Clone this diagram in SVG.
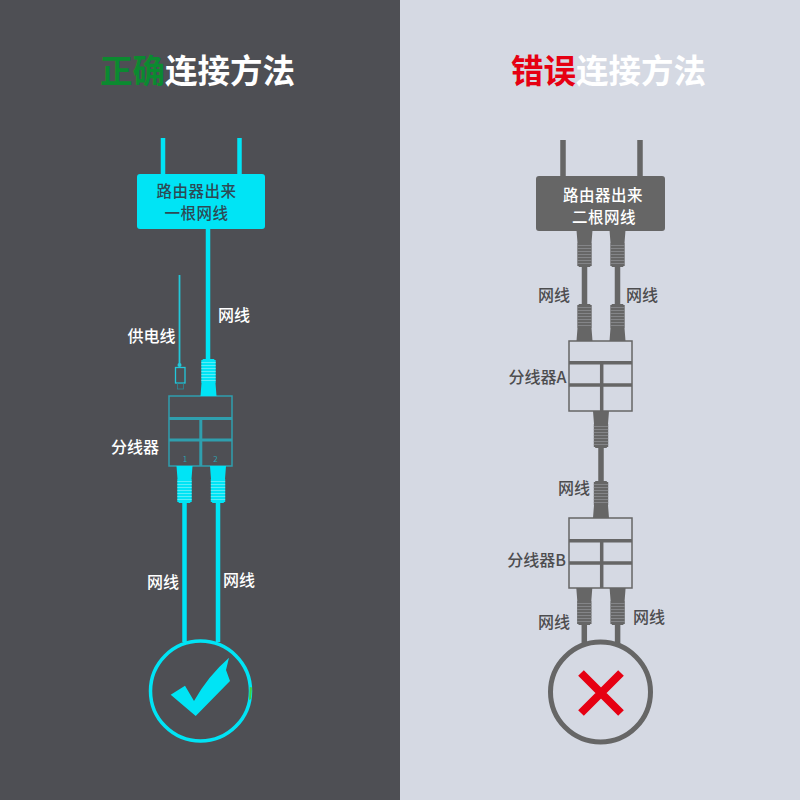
<svg xmlns="http://www.w3.org/2000/svg" xmlns:xlink="http://www.w3.org/1999/xlink" width="800" height="800" viewBox="0 0 800 800">
<style>
text{font-family:"Noto Sans CJK SC","Liberation Sans",sans-serif;}
.title{font-size:32.500px;font-weight:700;fill:#fff;}
.lbl{font-size:16px;font-weight:500;text-anchor:middle;}
.lw{fill:#fff;}
.ld{fill:#4d4d4f;}
.rw{font-size:15.500px;font-weight:500;letter-spacing:0.500px;text-anchor:middle;}
.c{fill:none;stroke:#00e4f5;stroke-width:4.500;}
.d{fill:none;stroke:#666;stroke-width:5.500;}
.pc{fill:#00e4f5;stroke:#7ff0f8;}
.pd{fill:#666;stroke:#909296;}
</style>
<defs>
<g id="plug">
<path stroke="none" d="M-8,0H8L7,13H7.200V36H5.800V37H-5.800V36H-7.200V13H-7Z"/>
<path stroke-width="0.700" d="M-7.200,15.500H7.200M-7.200,18.500H7.200M-7.200,21.500H7.200M-7.200,24.500H7.200M-7.200,27.500H7.200M-7.200,30.500H7.200M-7.200,33.500H7.200"/>
</g>
</defs>
<rect x="0" y="0" width="400" height="800" fill="#4e4f54"/>
<rect x="400" y="0" width="400" height="800" fill="#d5d9e3"/>

<g id="title-left"><text class="title" x="100" y="83"><tspan fill="#0b8a30">正确</tspan>连接方法</text></g>
<g id="title-right"><text class="title" x="511" y="83"><tspan fill="#e60012">错误</tspan>连接方法</text></g>

<g id="connectors">
<path class="c" d="M163,138V176M239.500,138V176"/>
<path class="c" d="M208,228V365"/>
<path class="c" d="M184.500,500V642M218,500V642"/>
<path d="M179.500,275V366" fill="none" stroke="#22c8da" stroke-width="1.800"/>
<path class="d" d="M563,140V178M640,140V178"/>
<path class="d" d="M584.500,262V310M617.500,262V310"/>
<path class="d" d="M601,440V488"/>
<path class="d" d="M584.300,620V645M617.600,620V645"/>
</g>

<g id="router-left">
<rect x="137" y="174" width="128" height="55" rx="3" fill="#00e4f5"/>
<text class="rw" x="196.500" y="196.500" fill="#2d4a55">路由器出来</text>
<text class="rw" x="196.500" y="218.500" fill="#2d4a55">一根网线</text>
</g>

<g id="power-plug">
<circle cx="179.500" cy="365" r="2" fill="#22c8da"/>
<rect x="175.500" y="367.500" width="9.500" height="15.500" fill="none" stroke="#22c8da" stroke-width="1.300"/>
<rect x="177.500" y="383" width="6" height="6" fill="none" stroke="#2a8b98" stroke-width="0.800"/>
</g>

<g id="splitter-left" fill="none" stroke="#2f9fae">
<rect x="169" y="396" width="63" height="70" stroke-width="1.500"/>
<path stroke-width="3" d="M169,418.500H232M169,440H232M200.800,418.500V466"/>
<text x="185" y="462" font-size="8" fill="#2f9fae" stroke="none" text-anchor="middle">1</text>
<text x="215.500" y="462" font-size="8" fill="#2f9fae" stroke="none" text-anchor="middle">2</text>
</g>

<g id="plugs-left">
<use xlink:href="#plug" href="#plug" class="pc" transform="translate(208.500,396) scale(1,-1)"/>
<use xlink:href="#plug" href="#plug" class="pc" transform="translate(184.500,466)"/>
<use xlink:href="#plug" href="#plug" class="pc" transform="translate(218,466)"/>
</g>

<g id="result-left">
<circle cx="200.500" cy="691" r="50" fill="none" stroke="#00e4f5" stroke-width="3.500"/>
<path d="M249.800,687L252,687.500L251,699L249,700Z" fill="#3fd03f"/>
<path d="M229,657.700L226,670L230,681L195.700,716L170.700,694.700L185,685.700L194,701Q208,676 229,657.700Z" fill="#00e4f5"/>
</g>

<g id="labels-left">
<text class="lbl lw" x="234" y="321">网线</text>
<text class="lbl lw" x="151.500" y="342">供电线</text>
<text class="lbl lw" x="135" y="453">分线器</text>
<text class="lbl lw" x="163" y="588">网线</text>
<text class="lbl lw" x="239" y="586">网线</text>
</g>

<g id="router-right">
<rect x="536" y="176" width="129" height="55" rx="3" fill="#666"/>
<text class="rw" x="603" y="200.500" fill="#fff">路由器出来</text>
<text class="rw" x="604" y="222.500" fill="#fff">二根网线</text>
</g>

<g id="plugs-right">
<use xlink:href="#plug" href="#plug" class="pd" transform="translate(584.500,230)"/>
<use xlink:href="#plug" href="#plug" class="pd" transform="translate(617.500,230)"/>
<use xlink:href="#plug" href="#plug" class="pd" transform="translate(584.500,341) scale(1,-1)"/>
<use xlink:href="#plug" href="#plug" class="pd" transform="translate(617.500,341) scale(1,-1)"/>
<use xlink:href="#plug" href="#plug" class="pd" transform="translate(601,411)"/>
<use xlink:href="#plug" href="#plug" class="pd" transform="translate(601,518) scale(1,-1)"/>
<use xlink:href="#plug" href="#plug" class="pd" transform="translate(584.300,588)"/>
<use xlink:href="#plug" href="#plug" class="pd" transform="translate(617.600,588)"/>
</g>

<g id="splitter-a" fill="none" stroke="#666">
<rect x="569" y="341" width="63" height="70" stroke-width="1.500"/>
<path stroke-width="3.500" d="M569,362.800H632M569,385H632M601.700,362.800V411"/>
</g>
<g id="splitter-b" fill="none" stroke="#666">
<rect x="569" y="518" width="63" height="70" stroke-width="1.500"/>
<path stroke-width="3.500" d="M569,540.800H632M569,563H632M601.700,540.800V588"/>
</g>

<g id="result-right">
<circle cx="600.500" cy="692" r="50" fill="none" stroke="#666" stroke-width="5"/>
<path d="M581,673L621,713M621,673L581,713" fill="none" stroke="#e60012" stroke-width="8"/>
</g>

<g id="labels-right">
<text class="lbl ld" x="554" y="301">网线</text>
<text class="lbl ld" x="642" y="301">网线</text>
<text class="lbl ld" x="537.500" y="383">分线器A</text>
<text class="lbl ld" x="574" y="494">网线</text>
<text class="lbl ld" x="536.500" y="566">分线器B</text>
<text class="lbl ld" x="554" y="628">网线</text>
<text class="lbl ld" x="649" y="623">网线</text>
</g>
</svg>
